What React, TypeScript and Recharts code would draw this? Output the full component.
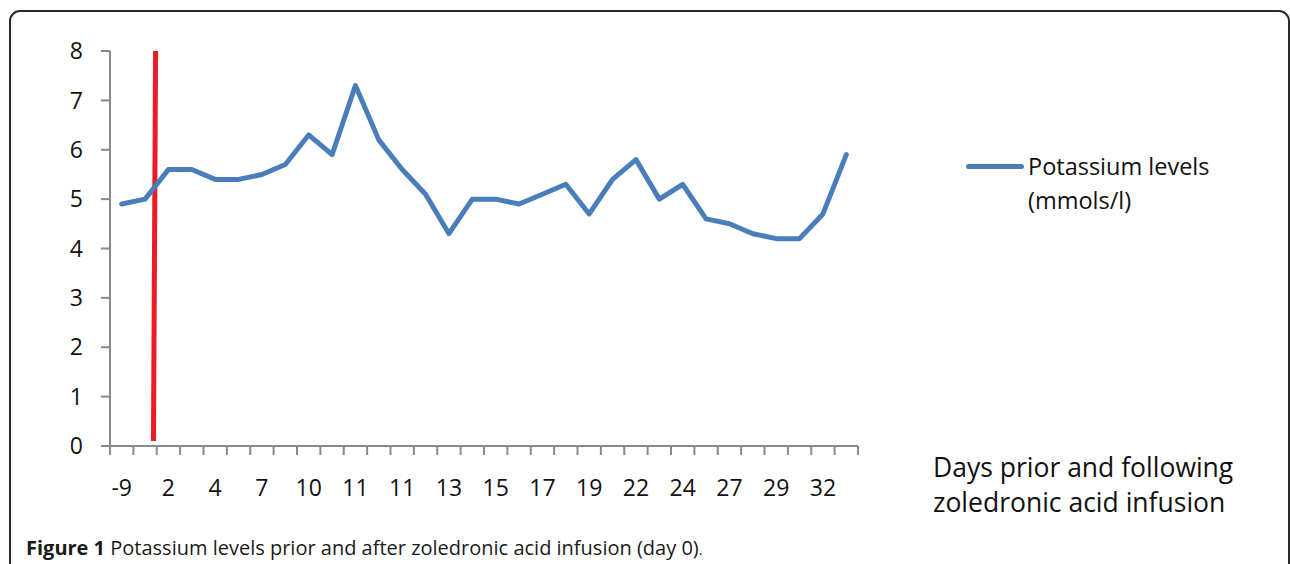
import React from 'react';
import { LineChart, Line, XAxis, YAxis, ReferenceLine } from 'recharts';

// Day labels for each of the 32 measurement categories (odd ones are not printed on the axis)
const dayLabels = ['-9', '0', '2', '3', '4', '5', '7', '8', '10', '10', '11', '11', '11', '12', '13', '14', '15', '16', '17', '18', '19', '20', '22', '23', '24', '25', '27', '28', '29', '30', '32', '33'];
// Potassium levels (mmol/l)
const potassium = [4.9, 5.0, 5.6, 5.6, 5.4, 5.4, 5.5, 5.7, 6.3, 5.9, 7.3, 6.2, 5.6, 5.1, 4.3, 5.0, 5.0, 4.9, 5.1, 5.3, 4.7, 5.4, 5.8, 5.0, 5.3, 4.6, 4.5, 4.3, 4.2, 4.2, 4.7, 5.9];
const yTicks = [0, 1, 2, 3, 4, 5, 6, 7, 8];
// Infusion marker (day 0) drawn between the 2nd and 3rd category
const infusionMarker = [
  { x: 1.86, y: 0.1 },
  { x: 1.95, y: 8 },
];

const data = potassium.map((k, i) => ({ pos: i + 0.5, k, label: dayLabels[i] }));
const n = potassium.length;
const xTicks: number[] = [];
for (let i = 0; i <= n; i++) {
  xTicks.push(i);
  if (i < n) xTicks.push(i + 0.5);
}

const AXIS = '#898989';
const FONT = '"Open Sans", "Noto Sans", sans-serif';

const XTick = (props: any) => {
  const { x, y, payload } = props;
  const v = payload.value as number;
  if (Number.isInteger(v)) {
    return <line x1={x} y1={y} x2={x} y2={y + 9} stroke={AXIS} strokeWidth={2} />;
  }
  const idx = Math.floor(v);
  if (idx % 2 !== 0) return null;
  return (
    <text x={x} y={y + 50} textAnchor="middle" fontFamily={FONT} fontSize={23} fill="#111">
      {dayLabels[idx]}
    </text>
  );
};

export default function App() {
  return (
    <div style={{ position: 'fixed', left: 0, top: 0, width: 1290, height: 564, overflow: 'hidden', background: '#fff' }}>
      <div
        style={{
          position: 'absolute',
          left: 9,
          top: 10,
          width: 1281,
          height: 620,
          border: '2px solid #2a2a2a',
          borderRadius: 11,
          boxSizing: 'border-box',
        }}
      />
      <div style={{ position: 'absolute', left: 0, top: 0 }}>
        <LineChart width={1290} height={564} data={data} margin={{ top: 51, right: 432, bottom: 58, left: 0 }}>
          <XAxis
            dataKey="pos"
            type="number"
            domain={[0, n]}
            ticks={xTicks}
            interval={0}
            tickLine={false}
            tickSize={0}
            tickMargin={0}
            height={60}
            axisLine={{ stroke: AXIS, strokeWidth: 2 }}
            tick={<XTick />}
          />
          <YAxis
            domain={[0, 8]}
            ticks={yTicks}
            interval={0}
            width={110}
            tickSize={9}
            tickMargin={18}
            axisLine={{ stroke: AXIS, strokeWidth: 2 }}
            tickLine={{ stroke: AXIS, strokeWidth: 2 }}
            tick={{ fontFamily: FONT, fontSize: 23, fill: '#111' }}
          />
          <ReferenceLine segment={infusionMarker} stroke="#ED1C24" strokeWidth={5} ifOverflow="visible" />
          <Line
            dataKey="k"
            name="Potassium levels (mmols/l)"
            stroke="#4A7EBB"
            strokeWidth={5}
            dot={false}
            strokeLinejoin="round"
            strokeLinecap="round"
            isAnimationActive={false}
          />
        </LineChart>
      </div>
      <div style={{ position: 'absolute', left: 966, top: 149, display: 'flex', alignItems: 'flex-start', fontFamily: FONT, fontSize: 23.5, color: '#111', lineHeight: '34px', whiteSpace: 'nowrap' }}>
        <div style={{ width: 58, height: 5, background: '#4A7EBB', borderRadius: 3, marginTop: 15, marginRight: 4 }} />
        <div>
          Potassium levels
          <br />
          (mmols/l)
        </div>
      </div>
      <div style={{ position: 'absolute', left: 933, top: 450, fontFamily: FONT, fontSize: 26.5, lineHeight: '35px', color: '#111', whiteSpace: 'nowrap' }}>
        Days prior and following
        <br />
        zoledronic acid infusion
      </div>
      <div style={{ position: 'absolute', left: 26, top: 534, fontFamily: FONT, fontSize: 20, lineHeight: '27px', color: '#1a1a1a', whiteSpace: 'nowrap' }}>
        <b>Figure 1</b> Potassium levels prior and after zoledronic acid infusion (day 0)<span style={{ fontSize: 14 }}>.</span>
      </div>
    </div>
  );
}
